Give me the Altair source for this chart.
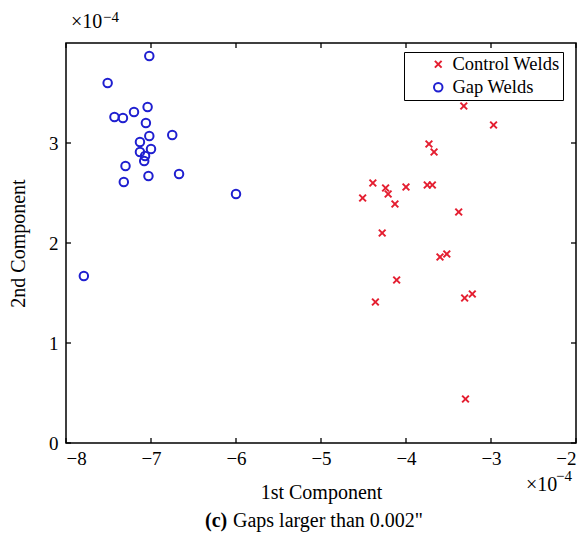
import altair as alt
import pandas as pd

# ---- data (units of 1e-4) ----
series_names = ["Control Welds", "Gap Welds"]
ctrl_x = [-3.32, -2.97, -3.73, -3.67, -4.39, -3.75, -3.69, -4.00, -4.24, -4.21, -4.51,
          -4.13, -3.38, -4.28, -3.60, -3.52, -4.11, -3.31, -3.22, -4.36, -3.30]
ctrl_y = [3.37, 3.18, 2.99, 2.91, 2.60, 2.58, 2.58, 2.56, 2.55, 2.49, 2.45,
          2.39, 2.31, 2.10, 1.86, 1.89, 1.63, 1.45, 1.49, 1.41, 0.44]
gap_x = [-7.02, -7.51, -7.04, -7.20, -7.43, -7.33, -7.06, -7.02, -6.75, -7.13,
         -7.00, -7.13, -7.07, -7.08, -7.30, -7.03, -6.67, -7.32, -6.00, -7.79]
gap_y = [3.87, 3.60, 3.36, 3.31, 3.26, 3.25, 3.20, 3.07, 3.08, 3.01,
         2.94, 2.91, 2.87, 2.82, 2.77, 2.67, 2.69, 2.61, 2.49, 1.67]
x_ticks = [-8, -7, -6, -5, -4, -3, -2]
y_ticks = [0, 1, 2, 3]
x_title = "1st Component"
y_title = "2nd Component"
exp_base = "×10"
exp_pow = "−4"
caption_tag = "(c)"
caption_text = 'Gaps larger than 0.002"'

FONT = "Liberation Serif"
RED = "#e41e30"
BLUE = "#1f1fd0"
XPATH = "M-1,-1L1,1M-1,1L1,-1"

df = pd.DataFrame({
    "x": ctrl_x + gap_x,
    "y": ctrl_y + gap_y,
    "series": [series_names[0]] * len(ctrl_x) + [series_names[1]] * len(gap_x),
})

xscale = alt.Scale(domain=[-8, -2], nice=False, zero=False)
yscale = alt.Scale(domain=[0, 4], nice=False, zero=False)

W, H = 510, 400
TL = 5  # tick length

axis_common = dict(grid=False, ticks=False, domain=False,
                   labelFont=FONT, labelFontSize=19, labelColor="black",
                   titleFont=FONT, titleFontSize=20, titleFontWeight="normal",
                   titleColor="black")
x_axis = alt.Axis(values=x_ticks, title=x_title, labelPadding=6, titlePadding=14,
                  **axis_common)
y_axis = alt.Axis(values=y_ticks, title=y_title, labelPadding=8, titlePadding=20,
                  **axis_common)

leg = alt.Legend(title=None, orient="none", legendX=338, legendY=9,
                 labelExpr="datum.label + '\u00a0\u00a0'")

points = alt.Chart(df).mark_point(filled=False, strokeWidth=2, opacity=1).encode(
    x=alt.X("x:Q", scale=xscale, axis=x_axis),
    y=alt.Y("y:Q", scale=yscale, axis=y_axis),
    color=alt.Color("series:N", scale=alt.Scale(domain=series_names, range=[RED, BLUE]),
                    legend=leg),
    shape=alt.Shape("series:N", scale=alt.Scale(domain=series_names, range=[XPATH, "circle"]),
                    legend=leg),
    size=alt.Size("series:N", scale=alt.Scale(domain=series_names, range=[45, 72]),
                  legend=leg),
)

xt = pd.DataFrame({"x": x_ticks})
yt = pd.DataFrame({"y": y_ticks})
tick_bottom = alt.Chart(xt).mark_rule(color="black", strokeWidth=1.3).encode(
    x=alt.X("x:Q", scale=xscale, axis=x_axis), y=alt.value(H), y2=alt.value(H - TL))
tick_top = alt.Chart(xt).mark_rule(color="black", strokeWidth=1.3).encode(
    x=alt.X("x:Q", scale=xscale, axis=x_axis), y=alt.value(0), y2=alt.value(TL))
tick_left = alt.Chart(yt).mark_rule(color="black", strokeWidth=1.3).encode(
    y=alt.Y("y:Q", scale=yscale, axis=y_axis), x=alt.value(0), x2=alt.value(TL))
tick_right = alt.Chart(yt).mark_rule(color="black", strokeWidth=1.3).encode(
    y=alt.Y("y:Q", scale=yscale, axis=y_axis), x=alt.value(W), x2=alt.value(W - TL))

one = alt.Data(values=[{}])


def txt(s, x, y, size, weight="normal", align="left"):
    return alt.Chart(one).mark_text(text=s, font=FONT, fontSize=size, fontWeight=weight,
                                    align=align, baseline="alphabetic", color="black").encode(
        x=alt.value(x), y=alt.value(y))


annots = [
    txt(exp_base, 5, -15, 20),
    txt(exp_pow, 37, -21, 15),
    txt(exp_base, 460, 448, 20),
    txt(exp_pow, 490, 438, 15),
    txt(caption_tag, 139, 484, 20, "bold"),
    txt(caption_text, 167, 484, 20),
]

chart = alt.layer(points, tick_bottom, tick_top, tick_left, tick_right, *annots).properties(
    width=W, height=H,
    autosize=alt.AutoSizeParams(type="none"),
    padding={"left": 66, "top": 43, "right": 7, "bottom": 97},
).configure_view(
    stroke="black", strokeWidth=1.5
).configure_legend(
    strokeColor="black", fillColor="white", padding=3,
    labelFont=FONT, labelFontSize=18.5, labelColor="black",
    symbolStrokeWidth=2, symbolOffset=22, labelOffset=5, rowPadding=4,
)

chart.save("out.html", embed_options={"renderer": "svg", "actions": False})
